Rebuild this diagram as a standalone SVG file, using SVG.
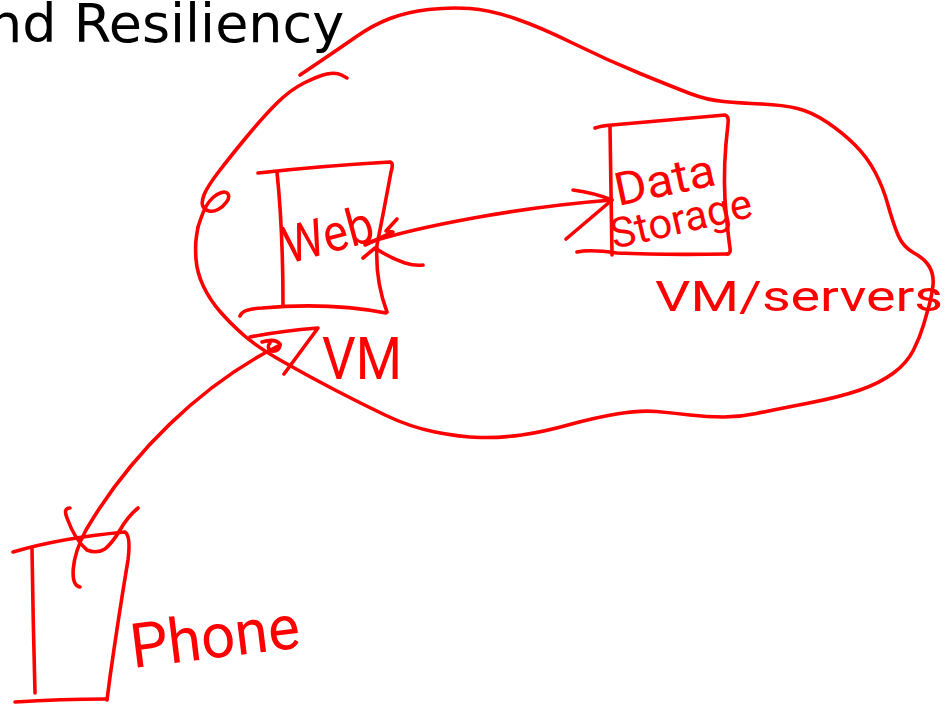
<svg xmlns="http://www.w3.org/2000/svg" width="945" height="704" viewBox="0 0 945 704">
  <style>
    .ink { fill: none; stroke: #ff0000; stroke-width: 3.6; stroke-linecap: round; stroke-linejoin: round; }
    .hand { fill: #ff0000; font-family: Roboto, "Open Sans", "Liberation Sans", sans-serif; font-weight: 400; }
    .title { fill: #000000; font-family: "DejaVu Sans", "Liberation Sans", sans-serif; font-size: 54px; }
  </style>
  <rect width="945" height="704" fill="#ffffff"/>

  <text class="title" x="-12" y="42">nd Resiliency</text>

  <!-- cloud around the servers -->
  <g id="cloud">
    <path class="ink" d="M 300,75 L 320,61.5 Q 340,48 356.5,36.5 Q 373,25 390,18.5 Q 407,12 428.5,9.5 Q 450,7 470,8.5 Q 490,10 515,18.5 Q 540,27 573.5,43.5 Q 607,60 640,73.5 Q 673,87 690,93.5 Q 707,100 723.5,101.5 Q 740,103 761.5,104 Q 783,105 797.5,108.5 Q 812,112 827.5,122.5 Q 843,133 855,145 Q 867,157 875,172 Q 883,187 888,205 Q 893,223 898,235 Q 903,247 914,253 Q 925,259 929.5,267 Q 934,275 933,285 Q 932,295 929.5,304 Q 927,313 923.5,325 Q 920,337 913.5,350 Q 907,363 893.5,373 Q 880,383 860,390 Q 840,397 806.5,403.5 Q 773,410 756.5,413.5 Q 740,417 723.5,417 Q 707,417 690,415 Q 673,413 656.5,411.5 Q 640,410 616.5,414 Q 593,418 568,425 Q 543,432 521.5,435 Q 500,438 480,437.5 Q 460,437 435,432 Q 410,427 385,415 Q 360,403 335,390 Q 310,377 283.5,362 Q 257,347 243.5,335 Q 230,323 220,311.5 Q 210,300 203.5,286.5 Q 197,273 196,259 Q 195,245 196.5,236 L 198,227"/>
    <path class="ink" d="M 347,78 L 341.5,75 Q 336,72 327,74 Q 318,76 304,83 Q 290,90 276.5,103.5 Q 263,117 246.5,137 Q 230,157 218.5,172 Q 207,187 204,195 Q 201,203 203,206.5 Q 205,210 209,211 Q 213,212 218,209.5 Q 223,207 226.5,202 Q 230,197 228,194 Q 226,191 221.5,192.5 Q 217,194 213,197.5 Q 209,201 206,206.5 Q 203,212 200.5,219.5 L 198,227"/>
    <text class="hand" x="655" y="311" font-size="42" textLength="288" lengthAdjust="spacingAndGlyphs">VM/servers</text>
  </g>

  <!-- web server box -->
  <g id="web">
    <path class="ink" d="M 258,173 Q 320,166 390,162 Q 394,163 391,172 Q 383,215 377,245 Q 375,280 387,312"/>
    <path class="ink" d="M 277,172 Q 283,230 283,305"/>
    <path class="ink" d="M 240,316 Q 242,309 262,308 Q 330,302 386,313"/>
    <text class="hand" x="288" y="264" font-size="52" textLength="92" lengthAdjust="spacingAndGlyphs" transform="rotate(-15 288 264)">Web</text>
    <text class="hand" x="322" y="379" font-size="60" textLength="80" lengthAdjust="spacingAndGlyphs">VM</text>
  </g>

  <!-- data storage box -->
  <g id="storage">
    <path class="ink" d="M 595,128 Q 600,126 612,125 L 725,115 Q 729,116 728,124 Q 723,165 725,200 Q 728,235 730,248 Q 731,254 727,254"/>
    <path class="ink" d="M 610,127 Q 611,190 612,255"/>
    <path class="ink" d="M 577,252 Q 590,249 617,253 Q 660,255 728,254"/>
    <text class="hand" x="618" y="206" font-size="46" textLength="102" lengthAdjust="spacingAndGlyphs" transform="rotate(-12 618 206)">Data</text>
    <text class="hand" x="614" y="249" font-size="42" textLength="144" lengthAdjust="spacingAndGlyphs" transform="rotate(-13 614 249)">Storage</text>
  </g>

  <!-- phone -->
  <g id="phone">
    <path class="ink" d="M 13,552 Q 60,538 125,532 Q 131,536 128,560 Q 118,620 110,677 L 107,700"/>
    <path class="ink" d="M 32,549 Q 33,620 35,693"/>
    <path class="ink" d="M 15,702 Q 60,699 107,699"/>
    <path class="ink" d="M 70,508 Q 63,508 67,518 Q 75,540 87,550 Q 97,554 105,549 Q 113,542 120,530 Q 128,516 138,508"/>
    <text class="hand" x="133" y="668" font-size="62" textLength="170" lengthAdjust="spacingAndGlyphs" transform="rotate(-7 133 668)">Phone</text>
  </g>

  <!-- connectors -->
  <g id="connectors">
    <!-- web <-> storage -->
    <path class="ink" d="M 367,243 C 420,226 520,207 612,200"/>
    <path class="ink" d="M 397,219 L 386,231 L 393,232 L 365,245"/>
    <path class="ink" d="M 363,258 L 375,248 Q 390,258 405,263 Q 415,266 423,265"/>
    <path class="ink" d="M 573,190 Q 595,193 612,200 L 566,239"/>
    <!-- phone -> web -->
    <path class="ink" d="M 80,587 C 70,585 70,560 86,530 C 130,455 200,385 280,345"/>
    <path class="ink" d="M 250,337 Q 280,331 318,328 L 284,374"/>
    <path class="ink" d="M 262,342 Q 275,338 280,344 Q 280,352 271,351 Q 266,347 270,343"/>
  </g>
</svg>
